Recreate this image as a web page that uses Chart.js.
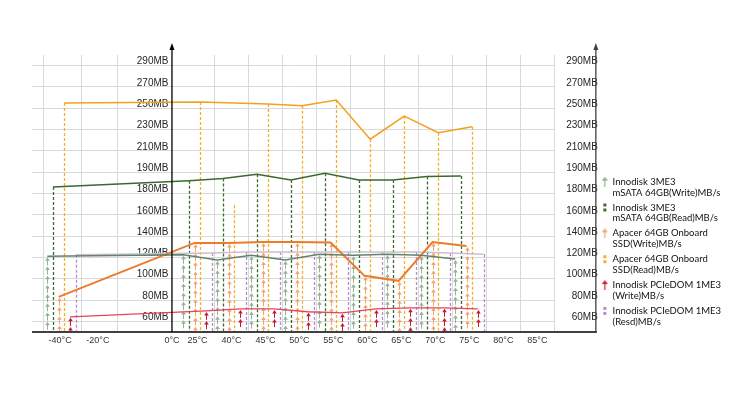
<!DOCTYPE html>
<html>
<head>
<meta charset="utf-8">
<script src="https://cdn.jsdelivr.net/npm/chart.js@4.4.1/dist/chart.umd.min.js"></script>
<style>
    html, body { margin: 0; padding: 0; background: #fff; }
</style>
</head>
<body>
<canvas id="myChart" width="741" height="395"></canvas>
<script>
// measured temperatures
const temps = ['-40°C', '25°C', '40°C', '45°C', '50°C', '55°C', '60°C', '65°C', '70°C', '75°C'];
// x axis labels
const xLabels = ['-40°C', '-20°C', '0°C', '25°C', '40°C', '45°C', '50°C', '55°C', '60°C', '65°C', '70°C', '75°C', '80°C', '85°C'];
// y axis labels in MB (evenly spaced on the axis)
const yTicks = [60, 80, 100, 120, 140, 160, 180, 190, 210, 230, 250, 270, 290];

// MB/s per temperature
const mSataWrite = [121, 122.4, 117.6, 122, 117.6, 123, 122, 123, 122, 118.6];
const mSataRead = [183, 186, 187, 189, 186.3, 189.5, 186.3, 186.3, 188, 188.2];
const apacerWrite = [83, 133.6, 133.6, 134.5, 134.5, 134, 102.7, 98, 134.5, 130.8];
const apacerRead = [255, 256, null, 254, 252.4, 257.7, 221, 242.7, 227, 232.6];
const apacerRead40 = 169; // lone reading at 40°C, not joined to the line
const pcieWrite = [64.2, 69.8, 71.7, 71.7, 69, 68, 71.7, 72.7, 72.7, 71.7];
const pcieRead = [122.4, 124.2, 125.2, 125.2, 125, 125, 125, 125, 124.2, 123];

// layout of the x scale (one unit = one 5°C slot)
const slotStart = [-4, 0, 1, 2, 3, 4, 5, 6, 7, 8];
const xLabelAt = [-3.54, -2.43, -0.25, 0.5, 1.5, 2.5, 3.5, 4.5, 5.5, 6.5, 7.5, 8.5, 9.5, 10.5];
const xGridAt = [-4.03, -2.9, -1.84, 1, 2, 3, 4, 5, 6, 7, 8, 9, 10, 11];
const xZero = -0.25;

// MB value -> position on the evenly spaced y axis
function toIdx(v) {
    for (let j = 0; j < yTicks.length - 1; j++) {
        if (v <= yTicks[j + 1] || j === yTicks.length - 2) {
            return j + (v - yTicks[j]) / (yTicks[j + 1] - yTicks[j]);
        }
    }
}

function series(values, k) {
    return values.map((v, i) => ({
        x: slotStart[i] + (k + 0.5) / 6,
        y: v == null ? null : toIdx(v)
    }));
}

function arrowIcon(color) {
    const c = document.createElement('canvas');
    c.width = 7; c.height = 10;
    const g = c.getContext('2d');
    g.strokeStyle = color; g.fillStyle = color; g.lineWidth = 1.2;
    g.beginPath(); g.moveTo(3.5, 3); g.lineTo(3.5, 10); g.stroke();
    g.beginPath(); g.moveTo(3.5, 0); g.lineTo(0.5, 4); g.lineTo(6.5, 4); g.closePath(); g.fill();
    return c;
}

function dashIcon(color) {
    const c = document.createElement('canvas');
    c.width = 5; c.height = 10;
    const g = c.getContext('2d');
    g.fillStyle = color;
    g.fillRect(1, 1, 3, 3);
    g.fillRect(1, 6, 3, 3);
    return c;
}

// drop lines and arrow stacks under each point
const marksPlugin = {
    id: 'marks',
    beforeDatasetsDraw(chart) {
        const ctx = chart.ctx;
        const base = chart.chartArea.bottom - 1;
        chart.data.datasets.forEach((ds, i) => {
            if (!ds.mark) return;
            const meta = chart.getDatasetMeta(i);
            meta.data.forEach(pt => {
                if (pt.skip) return;
                const x = Math.round(pt.x) + 0.5;
                ctx.save();
                ctx.strokeStyle = ds.markColor;
                ctx.fillStyle = ds.markColor;
                if (ds.mark === 'drop') {
                    ctx.lineWidth = 1.3;
                    ctx.setLineDash([3, 2]);
                    ctx.beginPath(); ctx.moveTo(x, pt.y); ctx.lineTo(x, base); ctx.stroke();
                } else {
                    ctx.lineWidth = 1;
                    for (let y = pt.y + 1; y < base - 3; y += 9.2) {
                        ctx.beginPath(); ctx.moveTo(x, y + 2); ctx.lineTo(x, Math.min(y + 8, base)); ctx.stroke();
                        ctx.beginPath(); ctx.moveTo(x, y); ctx.lineTo(x - 2.3, y + 3.5); ctx.lineTo(x + 2.3, y + 3.5); ctx.closePath(); ctx.fill();
                    }
                }
                ctx.restore();
            });
        });
    },
    afterDraw(chart) {
        const ctx = chart.ctx;
        const area = chart.chartArea;
        const x0 = chart.scales.x.getPixelForValue(xZero);
        const xr = chart.scales.y2.right - 2;
        const top = area.top - 12;
        ctx.save();
        // base line
        ctx.strokeStyle = '#404040';
        ctx.lineWidth = 2;
        ctx.beginPath(); ctx.moveTo(area.left, area.bottom); ctx.lineTo(xr + 1, area.bottom); ctx.stroke();
        // vertical axes with arrow heads
        [[x0, '#000000'], [xr, '#404040']].forEach(([ax, col]) => {
            ctx.strokeStyle = col; ctx.fillStyle = col; ctx.lineWidth = 1.3;
            ctx.beginPath(); ctx.moveTo(ax, area.bottom); ctx.lineTo(ax, top + 4); ctx.stroke();
            ctx.beginPath(); ctx.moveTo(ax, top); ctx.lineTo(ax - 2.5, top + 7); ctx.lineTo(ax + 2.5, top + 7); ctx.closePath(); ctx.fill();
        });
        ctx.restore();
    }
};

const yTickOpts = {
    autoSkip: false,
    color: '#262626',
    font: { family: 'Liberation Sans, Arial', size: 10 },
    labelOffset: -4,
    callback: (v, i) => yTicks[i] + 'MB'
};
const setYTicks = s => { s.ticks = yTicks.map((_, i) => ({ value: i })); };

const ctx = document.getElementById('myChart');

new Chart(ctx, {
    type: 'scatter',
    data: {
        datasets: [
            {
                label: ['Innodisk 3ME3', 'mSATA 64GB(Write)MB/s'],
                data: series(mSataWrite, 0),
                borderColor: '#62836a', borderWidth: 1.5,
                mark: 'arrow', markColor: '#94b294',
                pointStyle: arrowIcon('#8fb08f')
            },
            {
                label: ['Innodisk 3ME3', 'mSATA 64GB(Read)MB/s'],
                data: series(mSataRead, 1),
                borderColor: '#3b6a30', borderWidth: 1.5,
                mark: 'drop', markColor: '#3b6a30',
                pointStyle: dashIcon('#3b6a30')
            },
            {
                label: ['Apacer 64GB Onboard', 'SSD(Write)MB/s'],
                data: series(apacerWrite, 2),
                borderColor: '#ee7a2a', borderWidth: 2,
                mark: 'arrow', markColor: '#f4a46c',
                pointStyle: arrowIcon('#f4a46c')
            },
            {
                label: ['Apacer 64GB Onboard', 'SSD(Read)MB/s'],
                data: series(apacerRead, 3),
                borderColor: '#f0a21c', borderWidth: 1.5,
                spanGaps: true,
                mark: 'drop', markColor: '#f5b027',
                pointStyle: dashIcon('#f5b027')
            },
            {
                label: ['Innodisk PCIeDOM 1ME3', '(Write)MB/s'],
                data: series(pcieWrite, 4),
                borderColor: '#e5435c', borderWidth: 1.3,
                mark: 'arrow', markColor: '#c41a30',
                pointStyle: arrowIcon('#d01c34')
            },
            {
                label: ['Innodisk PCIeDOM 1ME3', '(Resd)MB/s'],
                data: series(pcieRead, 5),
                borderColor: '#cdbfd2', borderWidth: 1.5,
                mark: 'drop', markColor: '#b68ccf',
                pointStyle: dashIcon('#b68ccf')
            },
            {
                label: '',
                data: [{ x: slotStart[temps.indexOf('40°C')] + 3.5 / 6, y: toIdx(apacerRead40) }],
                showLine: false,
                mark: 'drop', markColor: '#f5b027'
            }
        ].map(d => Object.assign({ showLine: true, pointRadius: 0, pointHoverRadius: 0, fill: false }, d))
    },
    options: {
        responsive: false,
        animation: false,
        devicePixelRatio: 1,
        layout: { padding: { top: 55, left: 32, right: 10, bottom: 43 } },
        plugins: {
            tooltip: { enabled: false },
            legend: {
                position: 'right',
                align: 'end',
                fullSize: false,
                maxWidth: 220,
                labels: {
                    usePointStyle: true,
                    boxWidth: 6,
                    padding: 4,
                    color: '#111111',
                    font: { family: 'Lato', size: 9.5, lineHeight: 1.15 },
                    filter: item => item.text && item.text.length > 0
                }
            }
        },
        scales: {
            x: {
                type: 'linear',
                min: -4.368, max: 11.015,
                afterBuildTicks: s => { s.ticks = xGridAt.map(v => ({ value: v })); },
                afterFit: s => { s.height = 0; },
                ticks: { display: false },
                grid: { color: '#d9d9d9', drawTicks: false },
                border: { display: false }
            },
            xl: {
                type: 'linear',
                position: 'bottom',
                min: -4.368, max: 11.015,
                afterBuildTicks: s => { s.ticks = xLabelAt.map(v => ({ value: v })); },
                afterFit: s => { s.height = 20; },
                ticks: {
                    autoSkip: false, maxRotation: 0, padding: -5,
                    color: '#333333',
                    font: { family: 'Liberation Sans, Arial', size: 9 },
                    callback: (v, i) => xLabels[i]
                },
                grid: { display: false },
                border: { display: false }
            },
            y: {
                type: 'linear',
                min: -0.5, max: 12.5,
                position: { x: -0.353 },
                afterBuildTicks: setYTicks,
                afterFit: s => { s.width = 0; },
                ticks: yTickOpts,
                grid: { display: false },
                border: { display: false }
            },
            y2: {
                type: 'linear',
                min: -0.5, max: 12.5,
                position: 'right',
                afterBuildTicks: setYTicks,
                afterFit: s => { s.width = 43; },
                ticks: Object.assign({}, yTickOpts, { crossAlign: 'far', padding: 5 }),
                grid: { color: '#d9d9d9', drawTicks: false },
                border: { display: false }
            }
        }
    },
    plugins: [marksPlugin]
});
</script>
</body>
</html>
